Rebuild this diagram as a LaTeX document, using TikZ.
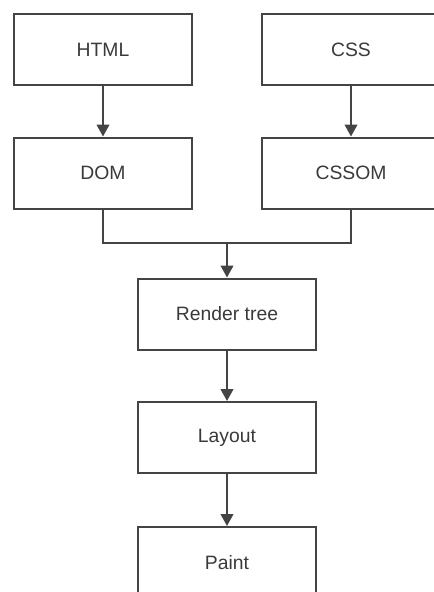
\documentclass[tikz,border=0pt]{standalone}
\usepackage{fontspec}
\setmainfont{Liberation Sans}
\usetikzlibrary{arrows.meta}
\definecolor{linec}{HTML}{444444}
\definecolor{textc}{HTML}{3A3A3A}
\begin{document}
\begin{tikzpicture}[x=0.75pt,y=-0.75pt,
  box/.style={draw=linec, line width=1.5pt, fill=white, minimum width=133.5pt, minimum height=53.25pt, inner sep=0pt, text=textc, font=\fontsize{14.5}{16}\selectfont},
  conn/.style={draw=linec, line width=1.5pt},
  arr/.style={conn, -{Triangle[width=9.5pt,length=9pt]}}]
\useasboundingbox (0,0) rectangle (434,592);
\clip (0,0) rectangle (434,592);
\fill[white] (0,0) rectangle (434,592);
\node[box] (html) at (103,49.5) {HTML};
\node[box] (css) at (351,49.5) {CSS};
\node[box] (dom) at (103,173) {DOM};
\node[box] (cssom) at (351,173) {CSSOM};
\node[box] (render) at (227,314) {Render tree};
\node[box] (layout) at (227,437.5) {Layout};
\node[box] (paint) at (227,562.5) {Paint};
\coordinate (j) at (227,243);
\draw[arr] (html) -- (dom);
\draw[arr] (css) -- (cssom);
\draw[conn] (dom.south) |- (j) -| (cssom.south);
\draw[arr] (j) -- (render);
\draw[arr] (render) -- (layout);
\draw[arr] (layout) -- (paint);
\end{tikzpicture}
\end{document}
